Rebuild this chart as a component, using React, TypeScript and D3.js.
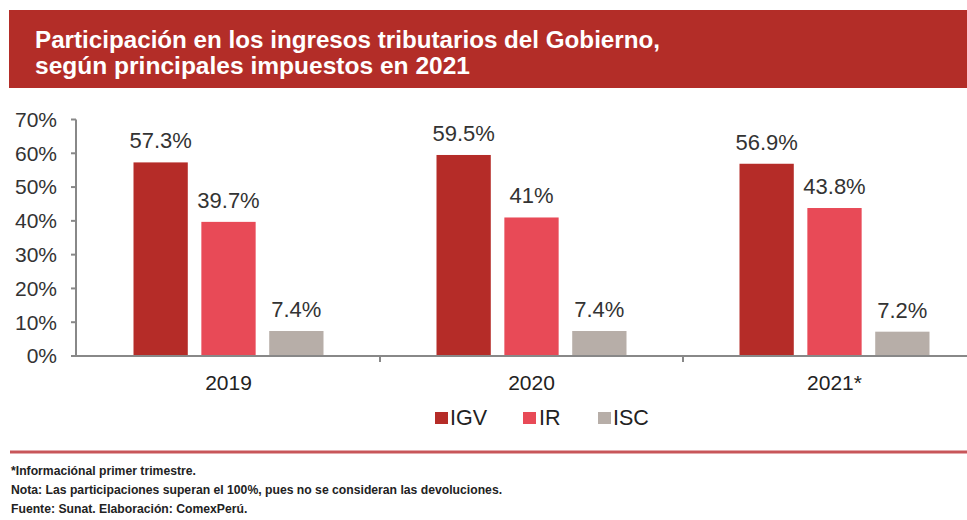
import React from "react";
import * as d3 from "d3";

const W = 967;
const H = 520;

const categories = ["2019", "2020", "2021*"];
const seriesNames = ["IGV", "IR", "ISC"];
const igv = [57.3, 59.5, 56.9];
const ir = [39.7, 41, 43.8];
const isc = [7.4, 7.4, 7.2];
const valueLabels = [
  ["57.3%", "59.5%", "56.9%"],
  ["39.7%", "41%", "43.8%"],
  ["7.4%", "7.4%", "7.2%"],
];
const yTicks = [0, 10, 20, 30, 40, 50, 60, 70];
const colors = ["#b52c28", "#e84a57", "#b7aea8"];
const titleLines = [
  "Participación en los ingresos tributarios del Gobierno,",
  "según principales impuestos en 2021",
];
const notes = [
  "*Informaciónal primer trimestre.",
  "Nota: Las participaciones superan el 100%, pues no se consideran las devoluciones.",
  "Fuente: Sunat. Elaboración: ComexPerú.",
];

const FONT = "'Liberation Sans', Arial, sans-serif";

export default function App() {
  const series = [igv, ir, isc];
  const x0 = d3.scaleBand<string>().domain(categories).range([77, 986]).padding(0);
  const x1 = d3
    .scaleBand<string>()
    .domain(seriesNames)
    .range([0, 190])
    .paddingInner(0.2)
    .paddingOuter(0);
  const y = d3.scaleLinear().domain([0, 70]).range([356, 119.5]);
  const groupOffset = (x0.bandwidth() - 190) / 2;

  const legendItems = [
    { name: "IGV", sx: 435, tx: 450 },
    { name: "IR", sx: 523, tx: 539 },
    { name: "ISC", sx: 598, tx: 613 },
  ];

  return (
    <svg
      width={W}
      height={H}
      style={{ position: "absolute", left: 0, top: 0, background: "#fff" }}
      fontFamily={FONT}
    >
      <rect x={0} y={0} width={W} height={H} fill="#fff" />
      {/* Title banner */}
      <rect x={9} y={10} width={W - 9} height={78} fill="#b32d28" />
      <text x={35} y={48} fill="#fff" fontSize={23} fontWeight="bold" textLength={625} lengthAdjust="spacingAndGlyphs">
        {titleLines[0]}
      </text>
      <text x={35} y={74} fill="#fff" fontSize={23} fontWeight="bold" textLength={435} lengthAdjust="spacingAndGlyphs">
        {titleLines[1]}
      </text>

      {/* Y axis */}
      <line x1={76} x2={76} y1={y(70)} y2={y(0)} stroke="#888" strokeWidth={2} />
      {yTicks.map((t) => (
        <g key={t}>
          <line x1={71} x2={76} y1={y(t)} y2={y(t)} stroke="#888" strokeWidth={2} />
          <text
            x={57}
            y={y(t)}
            dy="0.35em"
            textAnchor="end"
            fontSize={21}
            fill="#333"
          >
            {t}%
          </text>
        </g>
      ))}

      {/* Bars */}
      {categories.map((c, ci) => (
        <g key={c} transform={`translate(${(x0(c) as number) + groupOffset},0)`}>
          {seriesNames.map((s, si) => {
            const v = series[si][ci];
            const bx = x1(s) as number;
            return (
              <g key={s}>
                <rect
                  x={bx}
                  y={y(v)}
                  width={x1.bandwidth()}
                  height={y(0) - y(v)}
                  fill={colors[si]}
                />
                <text
                  x={bx + x1.bandwidth() / 2}
                  y={y(v) - 14}
                  textAnchor="middle"
                  fontSize={22}
                  fill="#333"
                >
                  {valueLabels[si][ci]}
                </text>
              </g>
            );
          })}
        </g>
      ))}

      {/* X axis */}
      <line x1={71} x2={W} y1={y(0)} y2={y(0)} stroke="#888" strokeWidth={2} />
      {categories.map((c, ci) =>
        ci > 0 ? (
          <line
            key={"t" + c}
            x1={x0(c) as number}
            x2={x0(c) as number}
            y1={y(0)}
            y2={y(0) + 6}
            stroke="#888"
            strokeWidth={2}
          />
        ) : null
      )}
      {categories.map((c) => (
        <text
          key={"l" + c}
          x={(x0(c) as number) + x0.bandwidth() / 2}
          y={390}
          textAnchor="middle"
          fontSize={21}
          fill="#222"
        >
          {c}
        </text>
      ))}

      {/* Legend */}
      {legendItems.map((it, i) => (
        <g key={it.name}>
          <rect x={it.sx} y={412} width={13} height={12} fill={colors[i]} />
          <text x={it.tx} y={425} fontSize={21.5} fill="#222">
            {it.name}
          </text>
        </g>
      ))}

      {/* Bottom rule */}
      <rect x={10} y={450.5} width={W - 10} height={3} fill="#c8565a" />

      {/* Notes */}
      {notes.map((n, i) => (
        <text
          key={i}
          x={11}
          y={475 + i * 19}
          fontSize={12.2}
          fontWeight="bold"
          fill="#222"
        >
          {n}
        </text>
      ))}
    </svg>
  );
}
